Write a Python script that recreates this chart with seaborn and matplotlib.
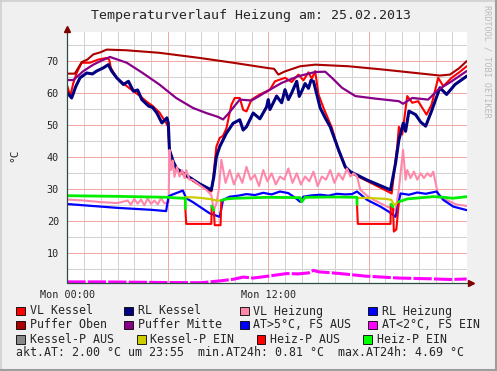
import seaborn as sns
import matplotlib.pyplot as plt
from matplotlib.patches import Rectangle
from matplotlib.lines import Line2D

W, H = 497, 371
MONO = "DejaVu Sans Mono"

# ---- data (hours since Mon 00:00, °C) ----
vl_kessel_h = [0, 0.1, 0.2, 0.35, 0.56, 0.86, 1.35, 1.85, 2.35, 2.5, 2.6, 2.95, 3.55, 3.9, 4.35,
               4.7, 5.1, 5.5, 5.9, 6.03, 6.1, 6.33, 6.53, 7.1, 7.9, 8.6, 8.7, 8.9, 9.1, 9.3, 9.5,
               9.8, 10.0, 10.3, 10.5, 10.7, 11.0, 11.5, 12.1, 12.4, 13.0, 13.4, 13.8, 14.1, 14.4,
               14.6, 14.8, 15.0, 15.3, 15.8, 16.2, 16.6, 16.9, 17.9, 19.37, 19.7, 19.8, 20.0, 20.3,
               20.6, 20.95, 21.45, 21.75, 22.15, 22.45, 22.95, 23.4, 23.85]
vl_kessel = [62.2, 60.5, 59.6, 63.0, 66.3, 69.5, 69.5, 70.5, 71.0, 70.5, 67.9, 64.8, 62.2, 60.8, 59.1,
             57.5, 56.0, 54.0, 50.7, 49.5, 41.5, 38.0, 36.0, 34.0, 31.3, 29.3, 32.9, 43.3, 46.0, 46.7, 49.0,
             56.4, 58.5, 58.5, 54.8, 54.3, 58.0, 59.6, 61.1, 63.7, 64.8, 63.5, 65.8, 64.0, 66.5,
             64.5, 66.9, 59.6, 55.4, 49.2, 42.0, 36.7, 35.2, 32.6, 28.7, 43.3, 49.5, 47.1, 59.1,
             57.0, 57.5, 53.3, 56.4, 64.8, 62.2, 64.8, 66.5, 68.4]

rl_kessel_h = [0, 0.26, 0.5, 0.76, 1.16, 1.5, 1.75, 2.15, 2.45, 2.65, 2.95, 3.35, 3.65, 3.95, 4.2,
               4.45, 4.85, 5.1, 5.35, 5.65, 5.95, 6.03, 6.1, 6.33, 6.53, 7.1, 7.9, 8.6, 8.75, 8.9,
               9.1, 9.5, 9.9, 10.3, 10.5, 10.7, 11.1, 11.5, 11.9, 12.0, 12.1, 12.5, 12.8, 13.0, 13.2,
               13.4, 13.7, 13.85, 14.0, 14.2, 14.4, 14.55, 14.7, 14.9, 15.1, 15.4, 15.7, 16.2, 16.6,
               16.9, 17.9, 19.3, 19.6, 19.8, 20.06, 20.2, 20.4, 20.8, 21.1, 21.4, 21.75, 22.25, 22.65,
               23.15, 23.85]
rl_kessel = [60.1, 58.5, 62.0, 64.8, 66.3, 66.0, 66.9, 67.9, 68.9, 66.9, 64.8, 62.7, 63.7, 60.6, 61.0,
             58.0, 56.0, 55.5, 53.8, 50.7, 52.3, 50.7, 42.3, 38.6, 36.5, 34.4, 31.7, 29.8, 33.9, 40.1,
             43.3, 47.5, 50.6, 51.7, 48.5, 49.5, 53.8, 52.0, 55.7, 58.0, 54.9, 59.1, 57.0, 61.1, 58.0,
             60.1, 63.7, 59.0, 60.6, 63.0, 61.5, 64.0, 63.7, 59.6, 55.4, 52.3, 49.5, 42.3, 37.0,
             35.5, 32.9, 29.8, 38.1, 45.4, 50.6, 48.1, 54.4, 53.3, 51.0, 49.7, 54.4, 61.7, 59.6,
             62.7, 65.3]

vl_heizung_h = [0, 1.0, 2.0, 3.0, 3.6, 3.8, 4.0, 4.2, 4.4, 4.6, 4.8, 5.0, 5.2, 5.4, 5.6, 5.8, 6.05,
                6.1, 6.2, 6.3, 6.4, 6.55, 6.7, 6.85, 7.0, 7.1, 7.3, 7.5, 7.9, 8.3, 8.6, 8.75, 8.9, 9.05,
                9.2, 9.45, 9.7, 9.95, 10.2, 10.45, 10.7, 10.95, 11.2, 11.45, 11.7, 11.95, 12.2, 12.45,
                12.7, 12.95, 13.2, 13.45, 13.7, 13.95, 14.2, 14.45, 14.7, 14.95, 15.2, 15.45, 15.7,
                15.95, 16.2, 16.45, 16.7, 16.9, 17.1, 17.3, 17.5, 17.9, 18.3, 19.1, 19.6, 19.8, 20.05,
                20.2, 20.3, 20.5, 20.7, 20.9, 21.1, 21.3, 21.5, 21.7, 21.85, 22.15, 22.65, 23.2, 23.85]
vl_heizung = [26.8, 26.5, 26.0, 25.7, 26.5, 25.2, 27.0, 25.5, 26.8, 25.0, 27.2, 25.4, 26.5, 25.3, 27.3,
              25.6, 26.0, 42.3, 36.0, 39.0, 33.9, 37.0, 34.0, 36.0, 33.5, 36.0, 33.0, 32.9, 31.3, 29.8,
              28.2, 23.5, 25.5, 30.0, 39.2, 32.0, 36.0, 31.5, 35.0, 32.0, 37.0, 33.0, 34.5, 31.0, 36.0,
              32.5, 35.0, 31.5, 34.0, 33.0, 36.5, 32.0, 35.0, 31.5, 34.0, 32.5, 35.5, 31.0, 34.0, 33.0,
              36.0, 32.0, 35.0, 33.0, 36.5, 34.0, 35.0, 34.0, 29.8, 28.0, 26.7, 24.6, 23.5, 30.0, 42.3,
              33.0, 36.0, 33.5, 35.5, 33.0, 35.0, 33.5, 35.0, 34.0, 35.5, 28.2, 26.7, 25.3, 24.8]

rl_heizung_h = [0, 1, 2, 3, 4, 5, 5.9, 6.05, 6.2, 6.5, 6.9, 7.1, 7.5, 7.9, 8.5, 9.1, 9.3, 9.7, 10.2,
                10.7, 11.2, 11.7, 12.2, 12.7, 13.2, 13.7, 13.9, 14.1, 14.6, 15.1, 15.6, 16.1, 16.6,
                17.0, 17.3, 17.9, 18.7, 19.2, 19.6, 19.9, 20.4, 20.9, 21.4, 22.05, 22.45, 23.05, 23.85]
rl_heizung = [25.4, 25.0, 24.6, 24.2, 23.9, 23.6, 23.2, 27.8, 28.2, 28.8, 29.6, 27.2, 26.0, 24.6, 22.5,
              21.4, 26.7, 27.7, 28.0, 28.5, 28.2, 28.9, 28.4, 29.3, 28.8, 27.0, 26.1, 27.7, 28.1, 28.3,
              28.0, 28.6, 28.4, 28.5, 29.3, 26.7, 24.6, 23.0, 21.4, 28.7, 28.3, 29.0, 28.6, 29.3, 26.7,
              24.6, 23.5]

puffer_oben_h = [0, 0.45, 0.86, 1.2, 1.55, 2.0, 2.35, 3.5, 5.5, 7.9, 9.9, 11.9, 12.35, 12.6, 13.0,
                 13.9, 14.8, 16.8, 18.8, 20.8, 22.25, 22.85, 23.4, 23.85]
puffer_oben = [66.1, 66.1, 69.7, 70.5, 72.1, 72.8, 73.6, 73.4, 72.6, 71.0, 69.5, 67.9, 67.6, 65.8, 66.8,
               68.4, 68.9, 68.4, 67.4, 66.3, 65.5, 65.8, 67.8, 70.0]

puffer_mitte_h = [0, 0.36, 0.96, 1.55, 2.1, 2.55, 3.55, 4.5, 5.5, 6.5, 7.5, 8.3, 9.0, 9.3, 9.6, 10.3,
                  11.0, 12.1, 12.8, 13.8, 14.8, 15.4, 15.8, 16.4, 17.2, 18.4, 19.8, 20.05, 20.6, 21.55,
                  22.15, 22.95, 23.85]
puffer_mitte = [64.1, 64.1, 66.9, 68.9, 70.3, 71.3, 69.5, 66.3, 62.7, 58.5, 55.4, 53.8, 52.6, 51.8, 53.5,
                58.0, 57.7, 61.1, 63.2, 65.3, 66.6, 66.7, 64.8, 61.7, 59.1, 58.3, 57.5, 56.7, 58.5, 58.0,
                61.1, 63.7, 66.9]

at_h = [0, 2, 4, 6, 8, 9.1, 9.9, 10.5, 11.1, 12.0, 12.4, 13.1, 13.8, 14.4, 14.7, 15.0, 16.2, 17.8,
        19.8, 21.75, 22.85, 23.85]
at = [1.1, 1.1, 1.0, 0.9, 0.85, 1.4, 1.9, 2.6, 2.3, 2.9, 3.2, 3.7, 3.6, 3.9, 4.69, 4.25, 3.75, 2.9,
      2.3, 2.05, 1.85, 2.0]

# Heizpumpe line: green while EIN, red while AUS
heiz_ein = [
    ([0, 3.0, 6.0, 6.5, 7.05, 7.05], [28.0, 27.8, 27.5, 27.3, 27.2, 24.0]),
    ([8.62, 8.75], [24.8, 23.5]),
    ([9.2, 9.5, 10.0, 12.0, 13.9, 14.0, 14.2, 16.0, 17.3, 17.3], [26.5, 27.0, 27.2, 27.5, 27.4, 26.1, 27.5, 27.6, 27.5, 25.3]),
    ([19.32, 19.45], [25.3, 24.5]),
    ([19.8, 20.3, 21.85, 22.5, 23.0, 23.85], [26.1, 27.0, 27.7, 27.5, 27.2, 27.7]),
]
heiz_aus = [
    ([7.05, 7.1, 8.6, 8.62], [24.0, 19.2, 19.2, 24.8]),
    ([8.75, 8.8, 9.15, 9.2], [23.5, 18.8, 18.8, 26.5]),
    ([17.3, 17.35, 19.3, 19.32], [25.3, 19.2, 19.2, 25.3]),
    ([19.45, 19.5, 19.65, 19.8], [24.5, 16.8, 17.5, 26.1]),
]
kessel_ein = [
    ([7.0, 7.5, 8.0, 8.6, 8.9, 9.2], [27.5, 27.5, 27.3, 26.9, 26.5, 26.5]),
    ([17.3, 18.0, 19.0, 19.35, 19.5, 19.8], [27.3, 27.3, 27.0, 26.7, 25.1, 26.0]),
]

akt_at, akt_time, min_at, max_at = 2.00, "23:55", 0.81, 4.69

legend_rows = [
    [("VL Kessel", "#FF0000"), ("RL Kessel", "#000080"), ("VL Heizung", "#FF88AA"), ("RL Heizung", "#0000FF")],
    [("Puffer Oben", "#AA0000"), ("Puffer Mitte", "#880088"), ("AT>5°C, FS AUS", "#0000FF"), ("AT<2°C, FS EIN", "#FF00FF")],
    [("Kessel-P AUS", "#888888"), ("Kessel-P EIN", "#CCCC00"), ("Heiz-P AUS", "#FF0000"), ("Heiz-P EIN", "#00FF00")],
]

# ---- style ----
sns.set_style("white")
plt.rcParams["font.family"] = [MONO, "DejaVu Sans"]

fig = plt.figure(figsize=(W / 100, H / 100), dpi=100, facecolor="#F0F0F0")
x0, x1, y_top, y_bot = 67.3, 466.7, 32.3, 283.3
ax = fig.add_axes([x0 / W, 1 - y_bot / H, (x1 - x0) / W, (y_bot - y_top) / H])
ax.set_facecolor("white")
ax.set_xlim(0, 23.85)
ax.set_ylim(0.66, 79.0)

# grid: grey every hour / 5 °C, red every 6 hours / 10 °C (crisp 1px lines)
grid_kw = dict(lw=0.72, antialiased=False)
ax.vlines([h for h in range(1, 24) if h % 6], 0.66, 79.0, color="#D2D2D2", zorder=0.5, **grid_kw)
ax.hlines(range(5, 80, 10), 0, 23.85, color="#D2D2D2", zorder=0.5, **grid_kw)
ax.vlines([6, 12, 18], 0.66, 79.0, color="#F2A8A8", zorder=0.6, **grid_kw)
ax.hlines(range(10, 80, 10), 0, 23.85, color="#F2A8A8", zorder=0.6, **grid_kw)


def line(h, v, color, lw, **kw):
    sns.lineplot(x=h, y=v, ax=ax, color=color, linewidth=lw, estimator=None, sort=False, **kw)


line(vl_kessel_h, vl_kessel, "#FF0000", 1.5)
line(rl_kessel_h, rl_kessel, "#000080", 2.2)
line(vl_heizung_h, vl_heizung, "#FF88AA", 1.5)
line(rl_heizung_h, rl_heizung, "#0000FF", 1.6)
line(puffer_oben_h, puffer_oben, "#AA0000", 1.5)
line(puffer_mitte_h, puffer_mitte, "#880088", 1.6)
line(at_h, at, "#FF00FF", 2.2, linestyle=(0, (6, 0.7)))
for h, v in kessel_ein:
    line(h, v, "#CCCC00", 1.6)
for h, v in heiz_aus:
    line(h, v, "#FF0000", 1.5)
for h, v in heiz_ein:
    line(h, v, "#00EE00", 2.0)

ax.set_xlim(0, 23.85)
ax.set_ylim(0.66, 79.0)
ax.set_xticks([0, 6, 12, 18])
ax.set_xticklabels(["Mon 00:00", "", "Mon 12:00", ""])
ax.set_yticks(range(10, 80, 10))
ax.set_xlabel("")
ax.set_ylabel("")
ax.grid(False)
ax.tick_params(which="major", length=2, width=0.7, color="#2C4D43", labelsize=7.3, pad=3)
ax.tick_params(axis="y", pad=4)
for s in ax.spines.values():
    s.set_visible(False)

# axis lines with arrows (rrdtool look)
ax.add_line(Line2D([0, 0], [0, 1.012], transform=ax.transAxes, color="#2C4D43", lw=0.9, clip_on=False))
ax.add_line(Line2D([0, 1.01], [0, 0], transform=ax.transAxes, color="#2C4D43", lw=0.9, clip_on=False))
ax.plot([0], [1.015], marker="^", ms=4.5, color="#7F0000", transform=ax.transAxes, clip_on=False)
ax.plot([1.012], [0], marker=">", ms=4.5, color="#7F0000", transform=ax.transAxes, clip_on=False)

fig.text(251 / W, 1 - 16 / H, "Temperaturverlauf Heizung am: 25.02.2013", ha="center", va="center",
         fontsize=9.5)
fig.text(14 / W, 1 - 155 / H, "°C", rotation=90, ha="center", va="center", fontsize=8)
fig.text(487 / W, 1 - 5 / H, "RRDTOOL / TOBI OETIKER", rotation=270, ha="center", va="top",
         fontsize=6.1, color="#BBBBBB")

# legend
row_y = [311, 325, 339.3]
row_x = [[16, 124.5, 240, 368.3], [16, 124.5, 240, 368.3], [16, 137, 256.7, 363.3]]
for ry, xs, entries in zip(row_y, row_x, legend_rows):
    for lx, (label, col) in zip(xs, entries):
        fig.add_artist(Rectangle((lx / W, 1 - (ry + 4.3) / H), 8.6 / W, 8.6 / H, transform=fig.transFigure,
                                 facecolor=col, edgecolor="black", linewidth=0.6))
        fig.text((lx + 13.5) / W, 1 - ry / H, label, ha="left", va="center", fontsize=8.4)

fig.text(16 / W, 1 - 352.7 / H,
         f"akt.AT: {akt_at:.2f} °C um {akt_time}  min.AT24h: {min_at:.2f} °C  max.AT24h: {max_at:.2f} °C",
         ha="left", va="center", fontsize=8.4)

# 3D frame
fig.add_artist(Line2D([0, 1], [1 - 0.5 / H, 1 - 0.5 / H], transform=fig.transFigure, color="#CFCFCF", lw=1.2))
fig.add_artist(Line2D([0.5 / W, 0.5 / W], [0, 1], transform=fig.transFigure, color="#CFCFCF", lw=1.2))
fig.add_artist(Line2D([0, 1], [1 / H, 1 / H], transform=fig.transFigure, color="#9E9E9E", lw=1.5))
fig.add_artist(Line2D([1 - 1 / W, 1 - 1 / W], [0, 1], transform=fig.transFigure, color="#9E9E9E", lw=1.5))

fig.savefig("out.png", dpi=100, facecolor=fig.get_facecolor())
